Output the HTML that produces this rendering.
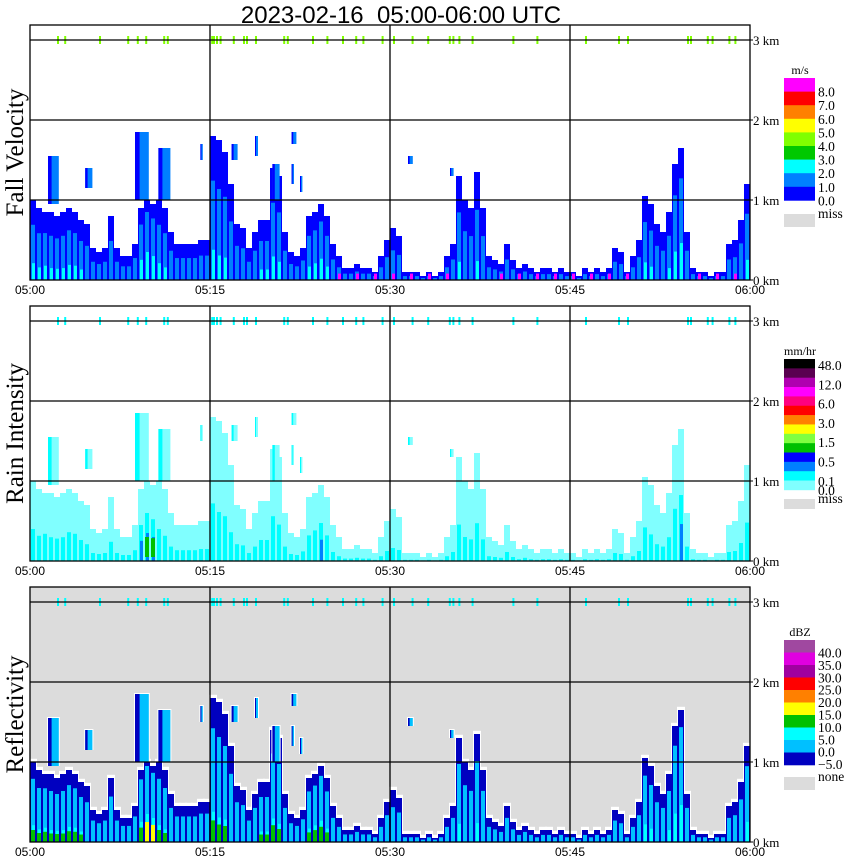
<!DOCTYPE html>
<html><head><meta charset="utf-8">
<style>
html,body{margin:0;padding:0;background:#fff;}
svg{display:block;}
text{font-family:"Liberation Serif",serif;}
.sans{font-family:"Liberation Sans",sans-serif;}
</style></head>
<body>
<svg id="chart" width="850" height="868" xmlns="http://www.w3.org/2000/svg">
<text class="sans" x="401" y="23" font-size="24" text-anchor="middle" xml:space="preserve" style="white-space:pre">2023-02-16  05:00-06:00 UTC</text>
</svg>
<script>
// ---- data ----
const timeTicks = ["05:00","05:15","05:30","05:45","06:00"];
const heightTicks = ["0 km","1 km","2 km","3 km"];
const panelTitles = ["Fall Velocity","Rain Intensity","Reflectivity"];
// echo top height (km) per half-minute bin, 05:00-06:00
const echoTop = [1.0,0.9,0.85,0.85,0.8,0.85,0.9,0.85,0.75,0.7,
0.4,0.35,0.4,0.8,0.4,0.3,0.3,0.45,0.9,1.0,
0.95,1.0,0.9,0.6,0.45,0.45,0.45,0.45,0.5,0.5,
1.8,1.75,1.6,1.2,0.7,0.65,0.4,0.6,0.75,0.75,
1.4,1.3,0.6,0.35,0.3,0.4,0.8,0.85,0.95,0.8,
0.45,0.3,0.15,0.15,0.2,0.15,0.15,0.1,0.3,0.5,
0.65,0.55,0.1,0.1,0.1,0.05,0.1,0.05,0.1,0.3,
0.45,1.3,1.0,0.9,1.35,0.9,0.3,0.25,0.2,0.45,
0.25,0.15,0.2,0.15,0.1,0.15,0.15,0.1,0.15,0.1,
0.1,0.05,0.15,0.1,0.15,0.1,0.15,0.4,0.35,0.1,
0.3,0.5,1.05,0.95,0.7,0.6,0.85,1.45,1.65,0.6,
0.15,0.1,0.1,0.05,0.1,0.1,0.45,0.5,0.75,1.2];
// core strength (0-1) per half-minute bin
const coreStrength = [0.6,0.5,0.6,0.5,0.5,0.5,0.6,0.6,0.5,0.4,
0.3,0.3,0.3,0.4,0.3,0.3,0.3,0.4,0.8,1.0,
0.9,0.6,0.5,0.4,0.4,0.4,0.4,0.4,0.4,0.4,
0.6,0.5,0.5,0.4,0.4,0.4,0.3,0.4,0.5,0.5,
0.6,0.5,0.4,0.3,0.3,0.4,0.6,0.7,0.8,0.6,
0.3,0.2,0.2,0.2,0.2,0.2,0.2,0.1,0.2,0.3,
0.3,0.3,0.1,0.1,0.1,0.1,0.1,0.1,0.1,0.2,
0.3,0.5,0.4,0.4,0.5,0.4,0.2,0.2,0.2,0.3,
0.2,0.1,0.2,0.1,0.1,0.1,0.1,0.1,0.1,0.1,
0.1,0.1,0.1,0.1,0.1,0.1,0.1,0.3,0.3,0.1,
0.2,0.3,0.6,0.5,0.4,0.4,0.5,0.7,0.8,0.4,
0.1,0.1,0.1,0.1,0.1,0.1,0.3,0.3,0.4,0.6];
// elevated echoes: start minute, end minute, bottom km, top km
const plumeStart = [1.5,4.6,8.75,10.7,14.2,16.8,18.75,20.2,21.8,21.8,22.5,31.5,35.0];
const plumeEnd   = [2.4,5.2,9.9,11.7,14.4,17.3,19.0,20.8,22.2,22.0,22.7,31.9,35.3];
const plumeBottom= [0.95,1.15,1.0,1.0,1.5,1.5,1.55,1.0,1.7,1.2,1.1,1.45,1.3];
const plumeTop   = [1.55,1.4,1.85,1.65,1.7,1.7,1.8,1.45,1.85,1.45,1.3,1.55,1.4];
// clutter marks near 3 km (minutes)
const topMarks = [2.25,2.85,5.75,8.1,8.9,9.6,11.1,11.4,15.1,15.25,15.5,15.8,16.9,17.75,18.0,18.75,21.1,21.4,23.5,24.7,26.0,27.1,27.7,29.3,30.25,31.8,33.1,34.9,35.2,35.7,36.8,40.2,42.2,46.25,49.0,49.75,54.75,55.0,56.4,56.8,58.2,58.7];
// legends
const velLabels = ["8.0","7.0","6.0","5.0","4.0","3.0","2.0","1.0","0.0"];
const velColors = ["#ff00ff","#ff0000","#ff8000","#ffff00","#80ff00","#00c800","#00ffff","#0080ff","#0000ff"];
const rainLabels = ["48.0","12.0","6.0","3.0","1.5","0.5","0.1","0.0"];
const rainColors = ["#000000","#5a0050","#b000b0","#ff00ff","#ff0080","#ff0000","#ff8000","#ffff00","#80ff40","#00c000","#0000ff","#0080ff","#00ffff","#80ffff"];
const dbzLabels = ["40.0","35.0","30.0","25.0","20.0","15.0","10.0","5.0","0.0","\u22125.0"];
const dbzColors = ["#a048a0","#e000e0","#a000a0","#ff0000","#ff8000","#ffff00","#00c000","#00ffff","#00c0ff","#0000c0"];

const NS="http://www.w3.org/2000/svg";
const svg=document.getElementById('chart');
const X0=30,X1=750,PH=255;
const xs=m=>X0+m*(X1-X0)/60;
function el(tag,attrs,parent){const e=document.createElementNS(NS,tag);for(const k in attrs)e.setAttribute(k,attrs[k]);(parent||svg).appendChild(e);return e;}

const panels=[
 {top:25,name:'fall-velocity',bg:'#ffffff',halo:null,c:['#0000ff','#0080ff','#00ffff','#ff00ff'],f:[0.45,0.4],unit:'m/s',labels:velLabels,colors:velColors,miss:'miss',mark:'#80ff00'},
 {top:306,name:'rain-intensity',bg:'#ffffff',halo:null,c:['#80ffff','#00ffff','#0080ff','#0000ff'],f:[0.1,0.5],unit:'mm/hr',labels:rainLabels,colors:rainColors,miss:'miss',mark:'#00ffff'},
 {top:587,name:'reflectivity',bg:'#dcdcdc',halo:'#ffffff',c:['#0000c0','#00c0ff','#00ffff','#00c000'],f:[0.55,0.4],unit:'dBZ',labels:dbzLabels,colors:dbzColors,miss:'none',mark:'#00ffff'}
];

panels.forEach((p,pi)=>{
 const g=el('g',{});
 
 
 const y0=p.top+PH;
 const ys=km=>y0-km*(PH-15)/3;
 const bg=el('rect',{x:X0,y:p.top,width:X1-X0,height:PH,fill:p.bg},g);
 
 
 const bw=(X1-X0)/echoTop.length;
 if(p.halo){
  echoTop.forEach((t,i)=>{
   const r=el('rect',{x:X0+i*bw-1,y:ys(t+0.04),width:bw+2,height:ys(0)-ys(t+0.04),fill:p.halo},g);
   
   
  });
 }
 echoTop.forEach((t,i)=>{
  const s=coreStrength[i];
  const x=X0+i*bw;
  const r=el('rect',{x:x,y:ys(t),width:bw,height:ys(0)-ys(t),fill:p.c[0]},g);
  
  
  const t2=t*(p.f[0]+p.f[1]*s);
  const r2=el('rect',{x:x+1,y:ys(t2),width:bw-2,height:ys(0)-ys(t2),fill:p.c[1]},g);
  
  
  if(s>=0.5 && pi!==1 || s>=0.8){
   const t3=t*s*0.35;
   const r3=el('rect',{x:x+2,y:ys(t3),width:bw-3,height:ys(0)-ys(t3),fill:p.c[2]},g);
   
   
  }
  if(pi===0 && s<=0.3 && i>40 && i%3===0){
   const r4=el('rect',{x:x+2,y:ys(0.08),width:3,height:ys(0)-ys(0.08),fill:p.c[3]},g);
   
   
  }
  if(pi===2 && s>=0.5 && i<50){
   const t4=t*s*0.25;
   const r5=el('rect',{x:x+1,y:ys(t4),width:bw-2,height:ys(0)-ys(t4),fill:s>=0.9?'#ffff00':p.c[3]},g);
   
   
  }
  if(pi===1 && s>=0.9){
   const t4=t*0.3;
   const r5=el('rect',{x:x+1,y:ys(t4),width:bw-2,height:ys(0)-ys(t4)-4,fill:'#00c000'},g);
   
   
  }
 });
 plumeStart.forEach((s,i)=>{
  const x=xs(s),w=Math.max(2,xs(plumeEnd[i])-x);
  if(p.halo){const h=el('rect',{x:x-1,y:ys(plumeTop[i])-1,width:w+2,height:ys(plumeBottom[i])-ys(plumeTop[i])+1,fill:p.halo},g);
   }
  const r=el('rect',{x:x,y:ys(plumeTop[i]),width:w,height:ys(plumeBottom[i])-ys(plumeTop[i]),fill:pi===1?p.c[0]:p.c[1]},g);
  
  
  const r2=el('rect',{x:x,y:ys(plumeTop[i]),width:Math.max(1,w/3),height:ys(plumeBottom[i])-ys(plumeTop[i]),fill:pi===1?p.c[1]:p.c[0]},g);
  
  
 });
 topMarks.forEach(m=>{
  const r=el('rect',{x:xs(m),y:ys(3)-4,width:2,height:8,fill:p.mark},g);
  
  
 });
 [1,2,3].forEach(k=>{const l=el('line',{x1:X0,x2:X1,y1:ys(k),y2:ys(k),stroke:'#000','stroke-width':1.3},g);
  });
 [15,30,45].forEach(m=>{const l=el('line',{x1:xs(m),x2:xs(m),y1:p.top,y2:y0,stroke:'#000','stroke-width':1.3},g);
  });
 const fr=el('rect',{x:X0,y:p.top,width:X1-X0,height:PH,fill:'none',stroke:'#000','stroke-width':1.3},g);
 
 
 heightTicks.forEach((lab,k)=>{
  const tk=el('line',{x1:X1,x2:X1+3,y1:ys(k),y2:ys(k),stroke:'#000'},g);
  
  const t=el('text',{x:X1+3,y:ys(k)+5,'font-size':13},g);t.textContent=lab;
  
 });
 timeTicks.forEach((lab,k)=>{
  const t=el('text',{x:xs(k*15),y:y0+14,'font-size':12,'text-anchor':'middle',class:'sans'},g);t.textContent=lab;
  
 });
 const yt=el('text',{x:0,y:0,'font-size':25,'text-anchor':'middle',transform:`translate(23,${p.top+PH/2}) rotate(-90)`},g);
 yt.textContent=panelTitles[pi];
 
 const lg=el('g',{},g);
 
 
 let ly,bh,labStep,labOff,missY;
 if(pi===0){ly=p.top+53;bh=13.6;labStep=bh;labOff=bh;missY=p.top+189;}
 if(pi===1){ly=p.top+53;bh=9.35;labStep=19.3;labOff=6;missY=p.top+193;}
 if(pi===2){ly=p.top+53;bh=12.5;labStep=12.4;labOff=12.5;missY=p.top+190;}
 const tt=el('text',{x:800,y:ly-4,'font-size':12,'text-anchor':'middle'},lg);tt.textContent=p.unit;
 
 p.colors.forEach((c,i)=>{const r=el('rect',{x:784,y:ly+i*bh,width:31,height:bh+0.3,fill:c},lg);
  });
 p.labels.forEach((lab,i)=>{
  let y=ly+labOff+i*labStep+5;
  if(pi===1&&i===7)y=ly+bh*14+5;
  const t=el('text',{x:818,y:y,'font-size':13.5},lg);t.textContent=lab;
  
 });
 const mb=el('rect',{x:784,y:missY,width:31,height:pi===1?10:13,fill:'#dcdcdc'},lg);
 
 const mt=el('text',{x:818,y:missY+4,'font-size':13.5},lg);mt.textContent=p.miss;
 
});
</script>
</body></html>
